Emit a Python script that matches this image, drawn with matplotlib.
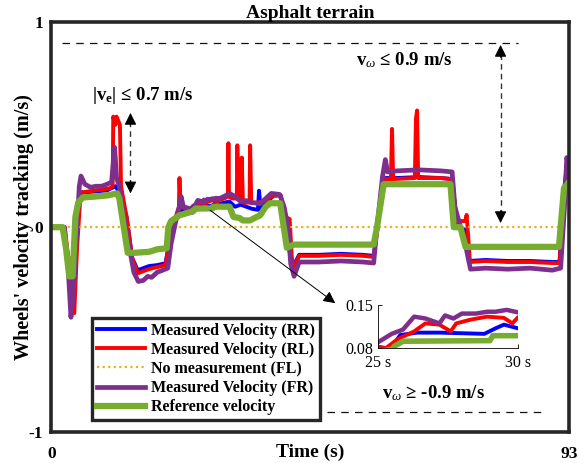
import matplotlib
matplotlib.use("Agg")
import matplotlib.pyplot as plt

plt.rcParams['font.family'] = ['Liberation Serif', 'DejaVu Serif']
plt.rcParams['mathtext.fontset'] = 'custom'
plt.rcParams['mathtext.rm'] = 'Liberation Serif'
plt.rcParams['mathtext.bf'] = 'Liberation Serif:bold'
plt.rcParams['mathtext.it'] = 'Liberation Serif:italic'

# ---------------- data ----------------
t_ref = [0, 2.0, 2.6, 3.2, 3.8, 4.3, 4.8, 5.6, 8, 10, 11.8, 12.2, 13.7, 15, 17.6, 19, 20.7,
         21.0, 21.5, 23.0, 24.5, 25.5, 25.6, 25.9, 29.0, 29.1, 32.0, 32.7, 33.8, 34.4, 35.7,
         36.5, 37.5, 38.5, 39.3, 41.1, 42.3, 43.6, 57.9, 58.5, 59.7, 71.7, 72.3, 73.5, 74.4,
         91.2, 92.1, 93]
v_ref = [0, 0, -0.10, -0.24, -0.24, 0.05, 0.12, 0.145, 0.15, 0.155, 0.165, 0.14, -0.125, -0.125,
         -0.12, -0.108, -0.103, 0.0, 0.03, 0.058, 0.07, 0.078, 0.083, 0.091, 0.092, 0.100, 0.10,
         0.05, 0.045, 0.033, 0.033, 0.045, 0.058, 0.10, 0.117, 0.117, -0.10, -0.085, -0.085, 0.0,
         0.21, 0.21, 0.0, 0.0, -0.096, -0.096, 0.19, 0.22]

t_rr = [0, 2.2, 3.0, 3.5, 4.0, 4.8, 5.3, 6, 8, 10, 11.5, 12.2, 13.5, 14.5, 15.5, 16.5, 17.5, 19,
        20.5, 21, 22, 23, 24, 25.3, 25.5, 25.8, 26.4, 27.2, 28.0, 28.8, 29.2, 29.5, 30.0, 31, 32,
        33, 34, 35, 36, 37.1, 37.3, 37.6, 38.5, 40, 41.2, 42, 43, 43.5, 44.5, 48, 52, 56, 57.9,
        58.6, 59.5, 60, 62, 66, 70, 72, 72.8, 74.5, 75, 78, 82, 86, 90, 91.3, 92, 92.6, 93]
v_rr = [0, 0, -0.15, -0.35, -0.2, 0.1, 0.17, 0.17, 0.175, 0.18, 0.2, 0.17, 0.05, -0.15, -0.21,
        -0.2, -0.19, -0.185, -0.176, -0.1, 0.02, 0.08, 0.09, 0.07, 0.08, 0.101, 0.105, 0.105,
        0.104, 0.103, 0.112, 0.118, 0.112, 0.12, 0.125, 0.10, 0.11, 0.10, 0.09, 0.085, 0.178,
        0.085, 0.12, 0.155, 0.155, 0.0, -0.15, -0.19, -0.135, -0.135, -0.13, -0.135, -0.14, 0.0,
        0.2, 0.24, 0.24, 0.245, 0.24, 0.235, 0.02, -0.02, -0.165, -0.16, -0.165, -0.165, -0.17,
        -0.17, 0.15, 0.3, 0.25]

t_rl = [0, 2.4, 3.2, 3.6, 4.1, 4.6, 5.2, 5.5, 8, 10.5, 11.0, 11.1, 11.5, 11.7, 12.0, 12.3, 12.5,
        13.5, 14.5, 15.5, 16.5, 17.5, 19, 20.5, 21, 22, 22.9, 23.0, 23.2, 24, 25.3, 25.7, 26.3,
        26.7, 27.2, 27.6, 27.8, 28.3, 28.9, 29.5, 29.8, 30.0, 31, 31.7, 31.8, 31.9, 32.5, 33.3,
        33.4, 33.6, 34.1, 34.2, 34.4, 35.6, 35.7, 35.9, 37, 38.5, 40, 41.2, 42, 42.8, 43.2, 43.6,
        44.5, 48, 52, 56, 57.9, 58.6, 59.5, 60, 61.0, 61.2, 61.4, 65.3, 65.5, 65.7, 65.9, 70, 72,
        72.8, 74.4, 74.6, 74.9, 75.2, 78, 82, 86, 90, 91.3, 92, 92.6, 93]
v_rl = [0, 0, -0.2, -0.15, -0.42, -0.1, 0.15, 0.17, 0.18, 0.19, 0.2, 0.54, 0.5, 0.54, 0.52, 0.5,
        0.2, 0.05, -0.15, -0.225, -0.215, -0.205, -0.195, -0.185, -0.1, 0.02, 0.1, 0.24, 0.1, 0.09,
        0.08, 0.094, 0.107, 0.120, 0.118, 0.107, 0.120, 0.126, 0.131, 0.129, 0.12, 0.130, 0.14,
        0.15, 0.41, 0.15, 0.14, 0.14, 0.40, 0.14, 0.13, 0.34, 0.12, 0.12, 0.40, 0.12, 0.12, 0.13,
        0.155, 0.155, 0.05, 0.04, -0.15, -0.2, -0.14, -0.14, -0.135, -0.14, -0.145, 0.0, 0.2, 0.235,
        0.235, 0.48, 0.235, 0.24, 0.53, 0.57, 0.24, 0.24, 0.235, 0.03, 0.03, 0.06, -0.05, -0.17,
        -0.165, -0.17, -0.17, -0.175, -0.175, 0.1, 0.25, 0.22]

t_fl = [0, 93]
v_fl = [0, 0]

t_fr = [0, 2.3, 3.0, 3.5, 4.0, 4.6, 5.0, 5.3, 6, 7, 8, 9, 10, 10.8, 11.35, 11.7, 12.2, 13.0, 14.0,
        14.8, 15.6, 16.5, 17.3, 18, 19, 20, 20.9, 21.5, 22.5, 23.0, 23.3, 23.7, 24.3, 25.0, 25.5,
        25.9, 26.3, 26.7, 27.2, 27.4, 27.7, 28.0, 28.5, 28.9, 29.2, 29.6, 30.0, 31, 32, 33, 34,
        35, 36, 37.5, 38.5, 39.5, 41, 41.8, 42.5, 43.0, 43.6, 44.5, 48, 52, 56, 57.9, 58.5, 59.5,
        60.0, 60.4, 62, 66, 70, 72, 72.5, 73.5, 74.5, 75.3, 78, 82, 86, 90, 91.5, 92.2, 92.6, 93]
v_fr = [0, 0, -0.2, -0.44, -0.3, 0.0, 0.2, 0.25, 0.21, 0.195, 0.2, 0.2, 0.21, 0.22, 0.39, 0.24,
        0.2, 0.05, -0.1, -0.22, -0.265, -0.26, -0.24, -0.245, -0.22, -0.21, -0.2, -0.08, 0.05,
        0.10, 0.15, 0.10, 0.095, 0.089, 0.103, 0.110, 0.131, 0.128, 0.120, 0.133, 0.128, 0.136,
        0.136, 0.139, 0.139, 0.142, 0.138, 0.15, 0.165, 0.15, 0.125, 0.13, 0.12, 0.115, 0.14,
        0.165, 0.16, 0.1, 0.0, -0.18, -0.24, -0.17, -0.17, -0.165, -0.17, -0.175, 0.0, 0.25, 0.33,
        0.27, 0.275, 0.28, 0.275, 0.27, 0.1, 0.0, -0.1, -0.205, -0.2, -0.205, -0.2, -0.21, -0.2,
        0.1, 0.34, 0.3]

labels = ['Measured Velocity (RR)', 'Measured Velocity (RL)', 'No measurement (FL)',
          'Measured Velocity (FR)', 'Reference velocity']
x_ticks = [0, 93]
y_ticks = [-1, 0, 1]

c_blue = '#0000FF'
c_red = '#FF0000'
c_orange = '#EDB120'
c_purple = '#7E2F8E'
c_green = '#77AC30'

# ---------------- figure ----------------
fig = plt.figure(figsize=(5.79, 4.63), dpi=100)
ax = fig.add_axes([0.0889, 0.067, 0.8938, 0.8846])

ax.plot(t_rr, v_rr, color=c_blue, lw=2.8, label=labels[0])
ax.plot(t_rl, v_rl, color=c_red, lw=2.8, label=labels[1])
ax.plot(t_fl, v_fl, color=c_orange, lw=1.6, ls=(0, (1, 1.5)), label=labels[2])
ax.plot(t_fr, v_fr, color=c_purple, lw=3.4, label=labels[3])
ax.plot(t_ref, v_ref, color=c_green, lw=4.5, label=labels[4])

ax.set_xlim(0, 93)
ax.set_ylim(-1, 1)
ax.set_xticks(x_ticks)
ax.set_xticklabels([str(v) for v in x_ticks])
ax.set_yticks(y_ticks)
ax.set_yticklabels([str(v) for v in y_ticks])
ax.tick_params(length=0, labelsize=12.5)
ax.tick_params(axis='x', pad=10)
ax.tick_params(axis='y', pad=6)
for lab in ax.get_xticklabels() + ax.get_yticklabels():
    lab.set_fontweight('bold')
for sp in ax.spines.values():
    sp.set_linewidth(2.6)
    sp.set_color('#262626')

ax.set_xlabel('Time (s)', fontsize=14, fontweight='bold', labelpad=-13)
ax.set_ylabel("Wheels' velocity tracking (m/s)", fontsize=14.5, fontweight='bold', labelpad=-4)
ax.set_title('Asphalt terrain', fontsize=14, fontweight='bold', pad=1)

# bounds
ax.plot([1.9, 83.8], [0.9, 0.9], color='#111111', lw=0.9, ls=(0, (6, 5)))
ax.plot([10.0, 88.3], [-0.9, -0.9], color='#111111', lw=0.9, ls=(0, (6, 5)))

def dbl_arrow(x, y0, y1):
    ax.plot([x, x], [y0 + 0.04, y1 - 0.04], color='#333333', lw=1.0, ls=(0, (4, 3)))
    for tip, back in ((y0, y0 + 0.06), (y1, y1 - 0.06)):
        ax.annotate('', xy=(x, tip), xytext=(x, back),
                    arrowprops=dict(arrowstyle='-|>', mutation_scale=18, color='black', lw=0.8,
                                    shrinkA=0, shrinkB=0))

dbl_arrow(14.2, 0.165, 0.558)
dbl_arrow(80.7, 0.02, 0.89)

ax.text(16.4, 0.645, r'$\mathbf{|v}_\mathbf{e}\mathbf{|}$ ≤ 0.7 m/s', fontsize=13.5,
        fontweight='bold', ha='center', va='center')
ax.text(63.5, 0.817, r'$\mathbf{v}_{\omega}$ ≤ 0.9 m/s', fontsize=13.5,
        fontweight='bold', ha='center', va='center')
ax.text(68.6, -0.81, r'$\mathbf{v}_{\omega}$ ≥ -0.9 m/s', fontsize=13.5,
        fontweight='bold', ha='center', va='center')

ax.annotate('', xy=(51.0, -0.371), xytext=(28.5, 0.083),
            arrowprops=dict(arrowstyle='-|>', mutation_scale=18, color='black', lw=0.7,
                            shrinkA=0, shrinkB=0))

leg = ax.legend(loc='lower left', bbox_to_anchor=(0.078, 0.029), borderaxespad=0,
                fancybox=False, framealpha=1, edgecolor='#262626',
                prop={'weight': 'bold', 'size': 11.5}, handlelength=3.0, labelspacing=0.2,
                borderpad=0.3, handletextpad=0.4)
leg.get_frame().set_linewidth(2.4)
leg.set_zorder(5)

# inset
ins = fig.add_axes([0.6523, 0.2484, 0.2423, 0.0929])
ins.plot(t_rr, v_rr, color=c_blue, lw=2.8)
ins.plot(t_rl, v_rl, color=c_red, lw=2.8)
ins.plot(t_fr, v_fr, color=c_purple, lw=3.2)
ins.plot(t_ref, v_ref, color=c_green, lw=4.0)
ins.set_xlim(25, 30)
ins.set_ylim(0.08, 0.15)
ins.set_xticks([25, 30])
ins.set_xticklabels(['25 s', '30 s'])
ins.set_yticks([0.08, 0.15])
ins.set_yticklabels(['0.08', '0.15'])
ins.tick_params(direction='in', length=3, width=0.6, labelsize=11.5)
ins.tick_params(axis='x', pad=5)
ins.tick_params(axis='y', pad=3)
ins.spines['top'].set_visible(False)
ins.spines['right'].set_visible(False)
ins.spines['left'].set_linewidth(0.6)
ins.spines['bottom'].set_linewidth(0.6)
ins.patch.set_alpha(0)

fig.savefig('out.png', dpi=100)
